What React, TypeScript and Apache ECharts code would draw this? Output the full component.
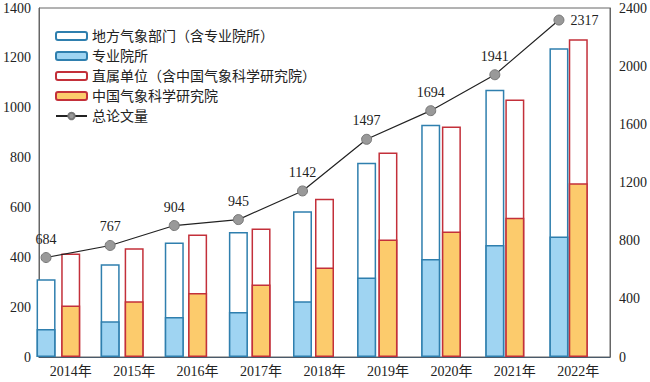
import React, { useEffect, useRef } from "react";
import * as echarts from "echarts";

const years = ["2014年", "2015年", "2016年", "2017年", "2018年", "2019年", "2020年", "2021年", "2022年"];
const localDept = [312, 372, 459, 501, 585, 779, 932, 1072, 1239];
const specialInst = [112, 143, 160, 181, 224, 319, 393, 449, 483];
const directUnits = [415, 436, 491, 515, 635, 820, 925, 1033, 1275];
const camsValues = [207, 224, 257, 291, 359, 471, 503, 559, 697];
const totalPapers = [684, 767, 904, 945, 1142, 1497, 1694, 1941, 2317];
const leftTicks = { min: 0, max: 1400, interval: 200 };
const rightTicks = { min: 0, max: 2400, interval: 400 };

const names = [
  "地方气象部门（含专业院所）",
  "专业院所",
  "直属单位（含中国气象科学研究院）",
  "中国气象科学研究院",
  "总论文量",
];

const FONT = "'Liberation Serif', 'Noto Sans CJK SC', serif";
const BLUE_BORDER = "#2f7fae";
const BLUE_FILL = "#9fd4f2";
const RED_BORDER = "#c3303a";
const ORANGE_FILL = "#fccb6c";

export default function App() {
  const ref = useRef<HTMLDivElement>(null);
  useEffect(() => {
    if (!ref.current) return;
    const chart = echarts.init(ref.current, null, { renderer: "svg" });
    const axisLabel = { fontFamily: FONT, fontSize: 14, color: "#222" };
    const plain = (v: number) => String(v);
    const lineData = totalPapers.map((v, i) =>
      i === totalPapers.length - 1
        ? { value: v, label: { position: "right", distance: 6 } }
        : v
    );
    chart.setOption({
      animation: false,
      backgroundColor: "#fff",
      legend: {
        orient: "vertical",
        left: 50,
        top: 24,
        itemWidth: 31,
        itemHeight: 8,
        itemGap: 6,
        textStyle: { fontFamily: FONT, fontSize: 14, color: "#222", lineHeight: 14 },
        data: names,
      },
      grid: [
        { left: 36, right: 37, top: 8, bottom: 25, show: true, borderColor: "#666", borderWidth: 1 },
        { left: 14, right: 59, top: 8, bottom: 25 },
      ],
      xAxis: [
        {
          gridIndex: 0,
          type: "category",
          data: years,
          axisTick: { show: false },
          axisLine: { lineStyle: { color: "#4a5a6a", width: 1.2 } },
          axisLabel: { ...axisLabel, margin: 7 },
        },
        { gridIndex: 1, type: "category", data: years, show: false },
      ],
      yAxis: [
        {
          gridIndex: 0,
          type: "value",
          ...leftTicks,
          splitLine: { show: false },
          axisTick: { show: false },
          axisLine: { show: true, lineStyle: { color: "#666" } },
          axisLabel: { ...axisLabel, margin: 8, formatter: plain },
        },
        {
          gridIndex: 0,
          type: "value",
          position: "right",
          ...rightTicks,
          splitLine: { show: false },
          axisTick: { show: false },
          axisLine: { show: true, lineStyle: { color: "#666" } },
          axisLabel: { ...axisLabel, margin: 9, formatter: plain },
        },
        { gridIndex: 1, type: "value", ...leftTicks, show: false },
        { gridIndex: 1, type: "value", ...rightTicks, show: false },
      ],
      series: [
        {
          name: names[2],
          type: "bar",
          xAxisIndex: 0,
          yAxisIndex: 0,
          barWidth: 19,
          barGap: "-100%",
          data: directUnits,
          itemStyle: { color: "#fff", borderColor: RED_BORDER, borderWidth: 1.5 },
          z: 2,
        },
        {
          name: names[3],
          type: "bar",
          xAxisIndex: 0,
          yAxisIndex: 0,
          barWidth: 19,
          barGap: "-100%",
          data: camsValues,
          itemStyle: { color: ORANGE_FILL, borderColor: RED_BORDER, borderWidth: 1.5 },
          z: 3,
        },
        {
          name: names[0],
          type: "bar",
          xAxisIndex: 1,
          yAxisIndex: 2,
          barWidth: 19,
          barGap: "-100%",
          data: localDept,
          itemStyle: { color: "#fff", borderColor: BLUE_BORDER, borderWidth: 1.5 },
          z: 2,
        },
        {
          name: names[1],
          type: "bar",
          xAxisIndex: 1,
          yAxisIndex: 2,
          barWidth: 19,
          barGap: "-100%",
          data: specialInst,
          itemStyle: { color: BLUE_FILL, borderColor: BLUE_BORDER, borderWidth: 1.5 },
          z: 3,
        },
        {
          name: names[4],
          type: "line",
          xAxisIndex: 1,
          yAxisIndex: 3,
          data: lineData,
          symbol: "circle",
          symbolSize: 10,
          lineStyle: { color: "#222", width: 1.2 },
          itemStyle: { color: "#999", borderColor: "#777", borderWidth: 1 },
          label: {
            show: true,
            position: "top",
            distance: 6,
            fontFamily: FONT,
            fontSize: 14,
            color: "#222",
          },
          z: 5,
        },
      ],
    });
    return () => chart.dispose();
  }, []);
  return <div ref={ref} style={{ width: 650, height: 382, position: "absolute", left: 0, top: 0 }} />;
}
